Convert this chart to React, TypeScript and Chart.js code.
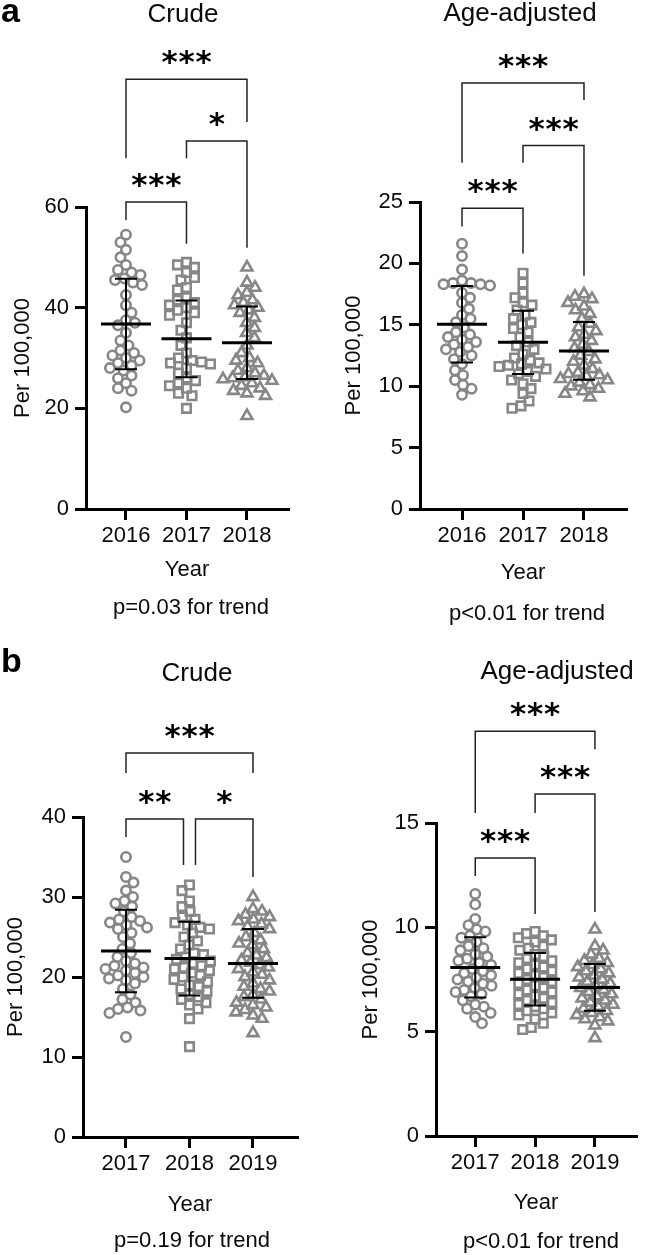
import React, { useEffect, useRef } from 'react';
import { Chart, registerables } from 'chart.js';

Chart.register(...registerables);

const FONT = "'Liberation Sans', Arial, Helvetica, sans-serif";
const STAR_FONT = "bold 31px 'DejaVu Sans', sans-serif";
const GREY = '#878787';
const INK = '#0a0a0a';

// ---------- Panel a: 2016-2018 ----------
const aYears = ['2016', '2017', '2018'];

const aCrude2016 = [54.5, 53, 51.5, 50, 48.5, 47.5, 47, 46.5, 45.8, 45.5, 45, 44.5, 42.5, 40.5, 39, 37.5, 37, 36.5, 35, 33.5, 32.5, 31.5, 31, 30.5, 30, 29.5, 29, 28.5, 28, 27.5, 26.5, 26, 25, 24, 23.5, 20.2];
const aCrude2017 = [49, 48.5, 48, 47, 46, 45.5, 44, 43.5, 42, 41.5, 41, 40.5, 40, 39.5, 39, 38.5, 37, 35.5, 34, 32.5, 31, 30, 29.5, 29.2, 29, 28.8, 28, 27, 26, 25.5, 25, 24.5, 24, 23, 22.5, 20];
const aCrude2018 = [48, 45, 44, 43, 42.5, 41.5, 41, 40.5, 40, 39.5, 39, 38, 37, 36, 35, 34, 32.5, 31, 30, 29.5, 29, 28, 27.5, 27, 26.5, 26.2, 26, 25.8, 25.5, 25, 24.5, 24, 23.5, 23, 22.5, 18.5];
const aCrudeMean = [36.76, 33.8, 33.05];
const aCrudeSD = [9.0, 7.6, 7.2];
const aCrudeTicks = [0, 20, 40, 60];

const aAdj2016 = [21.6, 20.6, 19.5, 18.6, 18.4, 18.4, 18.3, 18.3, 18.2, 17.6, 17.2, 16.8, 16.3, 15.8, 15.5, 15.2, 14.8, 14.4, 14.2, 14, 13.8, 13.6, 13.4, 13.2, 13, 12.8, 12.5, 12.2, 11.8, 11.3, 10.9, 10.5, 10.1, 9.8, 9.3];
const aAdj2017 = [19.2, 18.4, 17.6, 17.2, 16.8, 16.6, 16.2, 15.8, 15.5, 15.2, 15, 14.7, 14.4, 14, 13.6, 13.3, 13, 12.6, 12.3, 12.1, 11.9, 11.8, 11.7, 11.6, 11.4, 11.2, 11, 10.8, 10.5, 10.2, 9.8, 9.4, 8.8, 8.4, 8.2];
const aAdj2018 = [17.5, 17.3, 17.1, 16.8, 16.5, 16.2, 15.9, 15.5, 15.1, 14.8, 14.5, 14.2, 14, 13.7, 13.4, 13.1, 12.8, 12.5, 12.2, 12, 11.7, 11.4, 11.1, 11, 10.9, 10.8, 10.6, 10.5, 10.3, 10.1, 10, 9.8, 9.6, 9.4, 9.1];
const aAdjMean = [15.04, 13.57, 12.87];
const aAdjSD = [3.12, 2.58, 2.35];
const aAdjTicks = [0, 5, 10, 15, 20, 25];

// ---------- Panel b: 2017-2019 ----------
const bYears = ['2017', '2018', '2019'];

const bCrude2017 = [35, 32.5, 31.8, 30.8, 30, 29.5, 29.2, 28.8, 28.2, 27.5, 27.2, 27, 26.8, 26.5, 26.2, 26, 25.5, 25, 24.2, 23.5, 23, 22.5, 22, 21.7, 21.4, 21.2, 21, 20.8, 20.5, 20.2, 20, 19.8, 19.6, 19.2, 18.5, 17.8, 17.2, 16.8, 16.2, 16, 15.8, 15.5, 12.5];
const bCrude2018 = [31.5, 30.8, 29.5, 28.8, 28.2, 27.5, 27.2, 26.8, 26.5, 26.2, 26, 25.5, 25, 24.5, 24, 23.5, 23, 22.8, 22.5, 22.2, 22, 21.7, 21.4, 21.2, 21, 20.8, 20.5, 20.2, 20, 19.7, 19.4, 19, 18.8, 18.5, 18.2, 17.8, 17.5, 17.2, 16.8, 16.5, 16, 14.8, 11.3];
const bCrude2019 = [30, 28.5, 28.2, 27.8, 27.5, 27.2, 27, 26.6, 26.3, 26, 25.5, 25, 24.6, 24.2, 24, 23.5, 23, 22.7, 22.4, 22.1, 21.8, 21.5, 21.2, 21, 20.6, 20.3, 20, 19.6, 19.2, 18.8, 18.5, 18.2, 17.8, 17.5, 17.2, 16.8, 16.5, 16.2, 15.9, 15.6, 15.2, 14.8, 13];
const bCrudeMean = [23.25, 22.3, 21.7];
const bCrudeSD = [5.15, 4.6, 4.3];
const bCrudeTicks = [0, 10, 20, 30, 40];

const bAdj2017 = [11.6, 11.1, 10.4, 10.1, 9.9, 9.8, 9.6, 9.5, 9.3, 9.1, 9.0, 8.9, 8.7, 8.6, 8.5, 8.4, 8.3, 8.2, 8.0, 7.9, 7.8, 7.7, 7.6, 7.5, 7.4, 7.3, 7.2, 7.1, 7.0, 6.9, 6.8, 6.7, 6.5, 6.3, 6.2, 6.1, 5.9, 5.7, 5.4];
const bAdj2018 = [9.8, 9.7, 9.6, 9.5, 9.4, 9.3, 9.1, 9.0, 8.9, 8.7, 8.6, 8.5, 8.4, 8.3, 8.2, 8.1, 8.0, 7.9, 7.8, 7.7, 7.6, 7.5, 7.4, 7.3, 7.2, 7.1, 7.0, 6.9, 6.8, 6.7, 6.6, 6.5, 6.4, 6.3, 6.2, 6.1, 6.0, 5.9, 5.8, 5.6, 5.4, 5.2, 5.1];
const bAdj2019 = [9.9, 9.1, 8.9, 8.7, 8.5, 8.4, 8.3, 8.2, 8.1, 8.0, 7.9, 7.8, 7.7, 7.6, 7.5, 7.4, 7.3, 7.2, 7.1, 7.0, 6.9, 6.8, 6.7, 6.6, 6.5, 6.4, 6.3, 6.2, 6.1, 6.0, 5.9, 5.8, 5.7, 5.6, 5.5, 5.3, 4.7];
const bAdjMean = [8.08, 7.51, 7.12];
const bAdjSD = [1.44, 1.26, 1.12];
const bAdjTicks = [0, 5, 10, 15];

// Comparison brackets: [fromIndex, toIndex, label, level, leftLegEnd, rightLegEnd] (data units)
type Bracket = [number, number, string, number, number, number];
const aCrudeBrackets: Bracket[] = [
  [0, 2, '***', 85.4, 69.7, 76.9],
  [1, 2, '*', 73.1, 69.7, 51.9],
  [0, 1, '***', 61.0, 57.4, 52.7],
];
const aAdjBrackets: Bracket[] = [
  [0, 2, '***', 34.7, 28.2, 33.3],
  [1, 2, '***', 29.6, 28.2, 19.0],
  [0, 1, '***', 24.5, 23.0, 20.8],
];
const bCrudeBrackets: Bracket[] = [
  [0, 2, '***', 48.0, 45.5, 45.5],
  [0, 1, '**', 39.75, 37.5, 34.0],
  [1, 2, '*', 39.75, 34.0, 32.5],
];
const bAdjBrackets: Bracket[] = [
  [0, 2, '***', 19.4, 15.48, 18.54],
  [1, 2, '***', 16.39, 15.48, 10.73],
  [0, 1, '***', 13.32, 12.46, 10.64],
];

type PanelDef = {
  letter: string;
  title: string;
  pText: string;
  years: string[];
  groups: number[][];
  means: number[];
  sds: number[];
  yTicks: number[];
  brackets: Bracket[];
  box: { left: number; top: number; w: number; h: number };
  area: { l: number; r: number; t: number; b: number };
  xMin: number;
  xMax: number;
  xScaleH: number;
  yTitlePad: number;
  titleX: number;
  titleY: number;
  pX: number;
  pY: number;
  letterY: number;
};

const panels: PanelDef[] = [
  {
    letter: 'a', title: 'Crude', pText: 'p=0.03 for trend', years: aYears,
    groups: [aCrude2016, aCrude2017, aCrude2018], means: aCrudeMean, sds: aCrudeSD,
    yTicks: aCrudeTicks, brackets: aCrudeBrackets,
    box: { left: 0, top: 0, w: 320, h: 640 },
    area: { l: 86, r: 288, t: 207, b: 509 },
    xMin: -0.661, xMax: 2.678, xScaleH: 74, yTitlePad: 10,
    titleX: 183, titleY: 22, pX: 191, pY: 614, letterY: 22,
  },
  {
    letter: '', title: 'Age-adjusted', pText: 'p<0.01 for trend', years: aYears,
    groups: [aAdj2016, aAdj2017, aAdj2018], means: aAdjMean, sds: aAdjSD,
    yTicks: aAdjTicks, brackets: aAdjBrackets,
    box: { left: 320, top: 0, w: 325, h: 640 },
    area: { l: 100, r: 306, t: 202, b: 509 },
    xMin: -0.689, xMax: 2.689, xScaleH: 77, yTitlePad: 21,
    titleX: 200, titleY: 21, pX: 207, pY: 620, letterY: 0,
  },
  {
    letter: 'b', title: 'Crude', pText: 'p=0.19 for trend', years: bYears,
    groups: [bCrude2017, bCrude2018, bCrude2019], means: bCrudeMean, sds: bCrudeSD,
    yTicks: bCrudeTicks, brackets: bCrudeBrackets,
    box: { left: 0, top: 640, w: 320, h: 615 },
    area: { l: 83, r: 297, t: 177, b: 497 },
    xMin: -0.677, xMax: 2.693, xScaleH: 81, yTitlePad: 3,
    titleX: 197, titleY: 41, pX: 192, pY: 607, letterY: 32,
  },
  {
    letter: '', title: 'Age-adjusted', pText: 'p<0.01 for trend', years: bYears,
    groups: [bAdj2017, bAdj2018, bAdj2019], means: bAdjMean, sds: bAdjSD,
    yTicks: bAdjTicks, brackets: bAdjBrackets,
    box: { left: 320, top: 640, w: 325, h: 615 },
    area: { l: 116, r: 325, t: 183, b: 496 },
    xMin: -0.656, xMax: 2.688, xScaleH: 80, yTitlePad: 38,
    titleX: 237, titleY: 39, pX: 221, pY: 608, letterY: 0,
  },
];

const POINT_STYLES = ['circle', 'rect', 'triangle'];
const POINT_RADII = [4.7, 6.0, 6.3];

// Deterministic beeswarm: spread points with nearly equal values sideways (pixel offsets).
function swarmOffsets(vals: number[], pxPerY: number, diam: number): number[] {
  const order = vals.map((_, i) => i).sort((a, b) => vals[b] - vals[a]);
  const placed: { x: number; y: number }[] = [];
  const out = new Array(vals.length).fill(0);
  order.forEach((idx, k) => {
    const y = vals[idx] * pxPerY;
    const sign = k % 2 === 0 ? 1 : -1;
    for (let s = 0; s < 400; s++) {
      const mag = Math.ceil(s / 2) * 0.5;
      const o = s === 0 ? 0 : s % 2 === 1 ? sign * mag : -sign * mag;
      let ok = true;
      for (const p of placed) {
        if ((p.x - o) ** 2 + (p.y - y) ** 2 < diam * diam) { ok = false; break; }
      }
      if (ok) { out[idx] = o; placed.push({ x: o, y }); break; }
    }
  });
  return out;
}

function drawStars(ctx: CanvasRenderingContext2D, label: string, cx: number, baseY: number) {
  ctx.font = STAR_FONT;
  ctx.textAlign = 'center';
  ctx.textBaseline = 'alphabetic';
  ctx.fillStyle = '#000';
  const pitch = 17;
  const n = label.length;
  for (let i = 0; i < n; i++) {
    ctx.fillText(label[i], cx + (i - (n - 1) / 2) * pitch, baseY);
  }
}

function PanelChart({ p }: { p: PanelDef }) {
  const ref = useRef<HTMLCanvasElement | null>(null);
  useEffect(() => {
    if (!ref.current) return;
    const yMax = p.yTicks[p.yTicks.length - 1];
    const pxPerY = (p.area.b - p.area.t) / yMax;
    const pxPerX = (p.area.r - p.area.l) / (p.xMax - p.xMin);

    const datasets = p.groups.map((vals, i) => {
      const offs = swarmOffsets(vals, pxPerY, 9.2);
      return {
        data: vals.map((v, j) => ({ x: i + offs[j] / pxPerX, y: v })),
        pointStyle: POINT_STYLES[i],
        pointRadius: POINT_RADII[i],
        pointHoverRadius: POINT_RADII[i],
        borderColor: GREY,
        backgroundColor: 'rgba(0,0,0,0)',
        pointBorderWidth: 2.6,
        borderWidth: 2.6,
        showLine: false,
      };
    });

    const decor = {
      id: 'decor',
      afterDatasetsDraw(chart: any) {
        const { ctx } = chart;
        const xs = chart.scales.x;
        const ys = chart.scales.y;
        ctx.save();
        ctx.strokeStyle = '#000';
        p.means.forEach((m, i) => {
          const cx = xs.getPixelForValue(i);
          const my = ys.getPixelForValue(m);
          const top = ys.getPixelForValue(m + p.sds[i]);
          const bot = ys.getPixelForValue(m - p.sds[i]);
          ctx.lineWidth = 2;
          ctx.beginPath();
          ctx.moveTo(cx, top); ctx.lineTo(cx, bot);
          ctx.moveTo(cx - 11, top); ctx.lineTo(cx + 11, top);
          ctx.moveTo(cx - 11, bot); ctx.lineTo(cx + 11, bot);
          ctx.stroke();
          ctx.lineWidth = 3;
          ctx.beginPath();
          ctx.moveTo(cx - 25, my); ctx.lineTo(cx + 25, my);
          ctx.stroke();
        });
        ctx.restore();
      },
      afterDraw(chart: any) {
        const { ctx } = chart;
        const xs = chart.scales.x;
        const ys = chart.scales.y;
        ctx.save();
        p.brackets.forEach((br) => {
          const [from, to, label, level, le, re] = br;
          let x1 = xs.getPixelForValue(from);
          let x2 = xs.getPixelForValue(to);
          p.brackets.forEach((o) => {
            if (o === br || Math.abs(o[3] - level) > 1e-6) return;
            if (o[0] === to) x2 -= 6;
            if (o[1] === from) x1 += 6;
          });
          const yl = ys.getPixelForValue(level);
          ctx.strokeStyle = '#222';
          ctx.lineWidth = 1.5;
          ctx.beginPath();
          ctx.moveTo(x1, ys.getPixelForValue(le));
          ctx.lineTo(x1, yl);
          ctx.lineTo(x2, yl);
          ctx.lineTo(x2, ys.getPixelForValue(re));
          ctx.stroke();
          drawStars(ctx, label, (x1 + x2) / 2, yl - 7);
        });
        ctx.fillStyle = INK;
        ctx.textBaseline = 'alphabetic';
        ctx.textAlign = 'center';
        ctx.font = `26px ${FONT}`;
        ctx.fillText(p.title, p.titleX, p.titleY);
        ctx.font = `22px ${FONT}`;
        ctx.fillText(p.pText, p.pX, p.pY);
        if (p.letter) {
          ctx.textAlign = 'left';
          ctx.fillStyle = '#000';
          ctx.font = `bold 34px ${FONT}`;
          ctx.fillText(p.letter, 1, p.letterY);
        }
        ctx.restore();
      },
    };

    const tickFont = { family: FONT, size: 22 };
    const chart = new Chart(ref.current, {
      type: 'scatter',
      data: { datasets } as any,
      options: {
        animation: false,
        responsive: false,
        maintainAspectRatio: false,
        events: [],
        layout: {
          padding: {
            left: 0,
            top: p.area.t,
            right: p.box.w - p.area.r,
            bottom: p.box.h - p.area.b - p.xScaleH,
          },
        },
        plugins: {
          legend: { display: false },
          tooltip: { enabled: false },
          title: { display: false },
        },
        scales: {
          x: {
            type: 'linear',
            min: p.xMin,
            max: p.xMax,
            afterBuildTicks: (s: any) => {
              s.ticks = p.years.map((_, i) => ({ value: i }));
            },
            afterFit: (s: any) => { s.height = p.xScaleH; },
            ticks: {
              autoSkip: false,
              maxRotation: 0,
              padding: 3,
              color: INK,
              font: tickFont,
              callback: (v: any) => p.years[Math.round(Number(v))] ?? '',
            },
            grid: {
              display: true,
              drawOnChartArea: false,
              drawTicks: true,
              tickLength: 11,
              lineWidth: 3,
              color: '#000',
            },
            border: { display: true, width: 3, color: '#000' },
            title: {
              display: true,
              text: 'Year',
              color: INK,
              font: tickFont,
              padding: { top: 0, bottom: 0 },
            },
          },
          y: {
            type: 'linear',
            min: 0,
            max: yMax,
            afterBuildTicks: (s: any) => {
              s.ticks = p.yTicks.map((v) => ({ value: v }));
            },
            afterFit: (s: any) => { s.width = p.area.l; },
            ticks: { padding: 6, color: INK, font: tickFont },
            grid: {
              display: true,
              drawOnChartArea: false,
              drawTicks: true,
              tickLength: 11,
              lineWidth: 3,
              color: '#000',
            },
            border: { display: true, width: 3, color: '#000' },
            title: {
              display: true,
              text: 'Per 100,000',
              color: INK,
              font: tickFont,
              padding: { top: p.yTitlePad, bottom: 0 },
            },
          },
        },
      } as any,
      plugins: [decor],
    });
    return () => chart.destroy();
  }, [p]);

  return (
    <canvas
      ref={ref}
      width={p.box.w}
      height={p.box.h}
      style={{ position: 'absolute', left: p.box.left, top: p.box.top, width: p.box.w, height: p.box.h }}
    />
  );
}

export default function App() {
  useEffect(() => {
    document.body.style.margin = '0';
    document.body.style.background = '#fff';
  }, []);
  return (
    <div style={{ position: 'relative', width: 645, height: 1255, background: '#fff', overflow: 'hidden' }}>
      {panels.map((p, i) => (
        <PanelChart key={i} p={p} />
      ))}
    </div>
  );
}
